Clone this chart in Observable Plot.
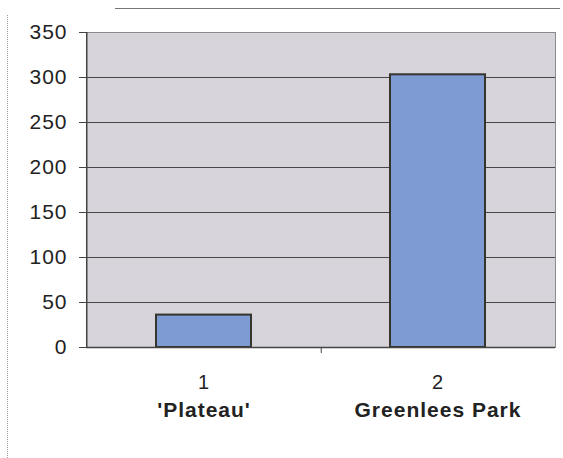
<!DOCTYPE html>
<html>
<head>
<meta charset="utf-8">
<script src="https://cdn.jsdelivr.net/npm/d3@7"></script>
<script src="https://cdn.jsdelivr.net/npm/@observablehq/plot@0.6"></script>
<style>
  html, body { margin: 0; padding: 0; background: #fff; }
  #wrap { position: relative; width: 563px; height: 458px; }
  #wrap svg { position: absolute; left: 0; top: 0; }
  .edge-top { position: absolute; left: 115px; top: 8px; width: 445px; border-top: 1px solid #777; }
  .edge-left { position: absolute; left: 7px; top: 15px; height: 443px; border-left: 1px dotted #999; }
</style>
</head>
<body>
<div id="wrap">
  <div class="edge-top"></div>
  <div class="edge-left"></div>
</div>
<script>
// Site numbers, site names and counts
const categories = ["1", "2"];
const siteNames = ["'Plateau'", "Greenlees Park"];
const counts = [36, 303];
const yTicks = [0, 50, 100, 150, 200, 250, 300, 350];

const rows = categories.map((c, i) => ({cat: c, name: siteNames[i], count: counts[i]}));

const W = 563, H = 458;
const mL = 86, mR = 8, mT = 32, mB = 111;
const step = (W - mL - mR) / categories.length;
const font = "'Liberation Sans', Arial, sans-serif";

const chart = Plot.plot({
  width: W,
  height: H,
  marginLeft: mL,
  marginRight: mR,
  marginTop: mT,
  marginBottom: mB,
  style: {fontFamily: font, color: "#222", background: "transparent", letterSpacing: "1px"},
  x: {domain: categories, paddingInner: 0.595, paddingOuter: 0.2975, align: 0.5, label: null},
  y: {domain: [0, 350], label: null},
  marks: [
    // plot area background and outline
    Plot.frame({fill: "#d7d3db", stroke: "#8a8a8a"}),
    // horizontal gridlines
    Plot.gridY(yTicks.filter(t => t > 0 && t < 350), {stroke: "#474747", strokeOpacity: 1, strokeWidth: 1}),
    // bars
    Plot.barY(rows, {x: "cat", y: "count", fill: "#7f9bd4", stroke: "#35352e", strokeWidth: 2}),
    // value axis: ticks, labels and the axis line on the left edge of the first category
    Plot.axisY({ticks: yTicks, tickSize: 7, tickPadding: 12, fontSize: 21, stroke: "#444", label: null}),
    Plot.ruleX(categories.slice(0, 1), {x: d => d, dx: -step / 2, stroke: "#444", strokeWidth: 1.5}),
    // category axis line and short divider tick between categories
    Plot.ruleY([0], {stroke: "#444", strokeWidth: 1.5}),
    Plot.ruleX(categories.slice(0, -1), {x: d => d, dx: step / 2, y1: 0, y2: 0, insetBottom: -6, stroke: "#444"}),
    // category labels: number line and site name line
    Plot.axisX({tickSize: 0, tickPadding: 27, fontSize: 20, label: null}),
    Plot.axisX({tickSize: 0, tickPadding: 55, fontSize: 21, fontWeight: "bold", label: null,
      tickFormat: d => siteNames[categories.indexOf(d)]})
  ]
});
document.getElementById("wrap").appendChild(chart);
</script>
</body>
</html>
